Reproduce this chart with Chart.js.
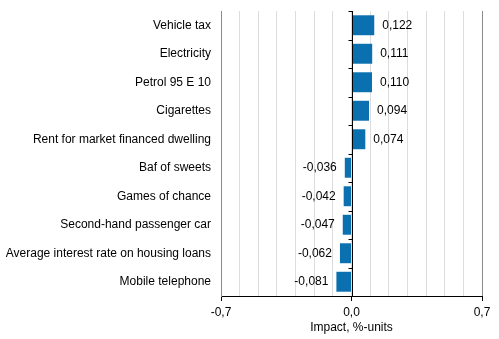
<!DOCTYPE html>
<html>
<head>
<meta charset="utf-8">
<script src="https://cdn.jsdelivr.net/npm/chart.js@4"></script>
<style>
  html, body { margin: 0; padding: 0; background: #fff; }
  #wrap { width: 499px; height: 339px; }
</style>
</head>
<body>
<div id="wrap"><canvas id="impactChart" width="499" height="339"></canvas></div>
<script>
const categories = [
    'Vehicle tax',
    'Electricity',
    'Petrol 95 E 10',
    'Cigarettes',
    'Rent for market financed dwelling',
    'Baf of sweets',
    'Games of chance',
    'Second-hand passenger car',
    'Average interest rate on housing loans',
    'Mobile telephone'
];
const impact = [0.122, 0.111, 0.110, 0.094, 0.074, -0.036, -0.042, -0.047, -0.062, -0.081];
const tickLabels = [-0.7, 0, 0.7];
const axisTitle = 'Impact, %-units';

const fmt = v => v.toFixed(v === 0 || Math.abs(v) >= 0.5 ? 1 : 3).replace('.', ',');
const isLabelled = v => tickLabels.some(t => Math.abs(t - v) < 1e-6);

// zero line with small ticks between categories, plus value labels
const extras = {
    id: 'extras',
    afterDatasetsDraw(chart) {
        const { ctx, chartArea, scales } = chart;
        const x0 = Math.round(scales.x.getPixelForValue(0)) + 0.5;
        ctx.save();
        ctx.strokeStyle = '#000';
        ctx.lineWidth = 1;
        ctx.beginPath();
        ctx.moveTo(x0, chartArea.top);
        ctx.lineTo(x0, chartArea.bottom);
        const step = (chartArea.bottom - chartArea.top) / categories.length;
        for (let i = 0; i < categories.length; i++) {
            const y = Math.round(chartArea.top + step * i) + 0.5;
            ctx.moveTo(x0 - 4, y);
            ctx.lineTo(x0, y);
        }
        ctx.stroke();

        ctx.fillStyle = '#000';
        ctx.font = '12px "Liberation Sans", Arial, sans-serif';
        ctx.textBaseline = 'middle';
        chart.getDatasetMeta(0).data.forEach((bar, i) => {
            const v = impact[i];
            const txt = fmt(v);
            if (v >= 0) {
                ctx.textAlign = 'left';
                ctx.fillText(txt, bar.x + 8, bar.y);
            } else {
                ctx.textAlign = 'right';
                ctx.fillText(txt, bar.x - 8, bar.y);
            }
        });
        ctx.restore();
    }
};

Chart.defaults.font.family = '"Liberation Sans", Arial, sans-serif';
Chart.defaults.font.size = 12;
Chart.defaults.color = '#000';

new Chart(document.getElementById('impactChart').getContext('2d'), {
    type: 'bar',
    data: {
        labels: categories,
        datasets: [{
            data: impact,
            backgroundColor: '#0a70b0',
            borderWidth: 0,
            barPercentage: 0.7,
            categoryPercentage: 1.0
        }]
    },
    options: {
        indexAxis: 'y',
        responsive: false,
        animation: false,
        layout: { padding: { top: 11, right: 17, left: 0, bottom: 4 } },
        plugins: {
            legend: { display: false },
            tooltip: { enabled: false }
        },
        scales: {
            x: {
                min: -0.7,
                max: 0.7,
                ticks: {
                    stepSize: 0.1,
                    autoSkip: false,
                    maxRotation: 0,
                    padding: 4,
                    callback: v => isLabelled(v) ? fmt(v) : ''
                },
                grid: {
                    color: c => (Math.abs(Math.abs(c.tick.value) - 0.7) < 1e-6) ? '#8c8c8c' : '#dcdcdc',
                    tickColor: c => isLabelled(c.tick.value) ? '#000' : 'rgba(0,0,0,0)',
                    tickLength: 5
                },
                border: { color: '#000' },
                title: {
                    display: true,
                    text: axisTitle,
                    padding: { top: 0, bottom: 0 }
                },
                afterFit: s => { s.height = 39; }
            },
            y: {
                ticks: { padding: 10 },
                grid: { display: false, drawTicks: false },
                border: { color: '#8c8c8c' },
                afterFit: s => { s.width = 221; s.paddingTop = 0; s.paddingBottom = 0; }
            }
        }
    },
    plugins: [extras]
});
</script>
</body>
</html>
